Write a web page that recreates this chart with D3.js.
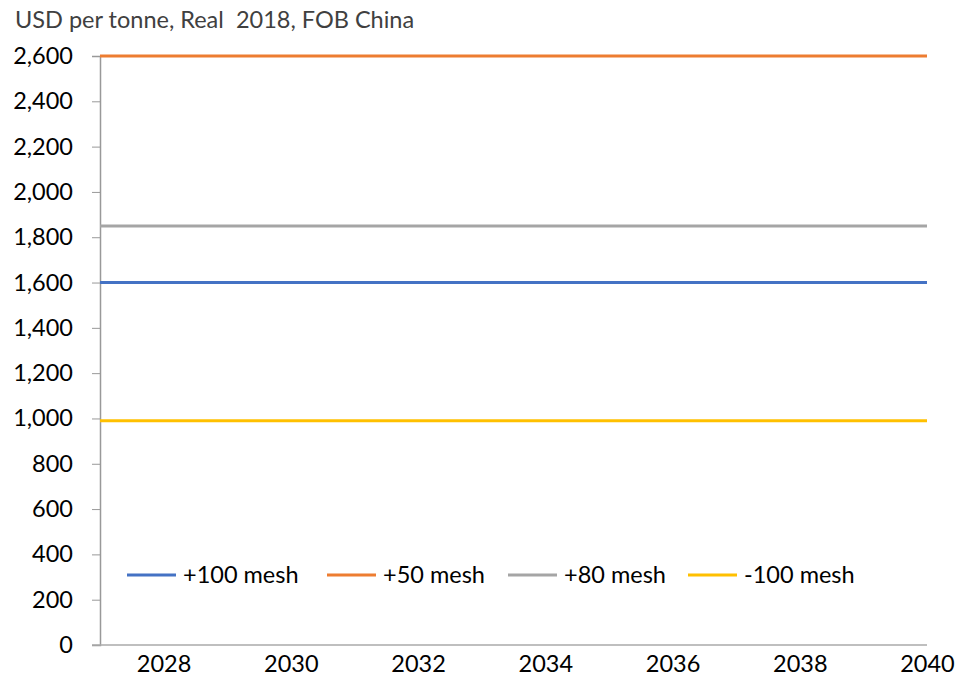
<!DOCTYPE html>
<html><head><meta charset="utf-8">
<script src="https://cdn.jsdelivr.net/npm/d3@7"></script>
<style>
body{margin:0;background:#fff;}
text{font-family:"Lato","Liberation Sans",sans-serif;}
</style></head>
<body><svg id="c" width="955" height="683"></svg>
<script>
const years = [2027, 2028, 2029, 2030, 2031, 2032, 2033, 2034, 2035, 2036, 2037, 2038, 2039, 2040];
const seriesNames = ["+100 mesh", "+50 mesh", "+80 mesh", "-100 mesh"];
const seriesColors = ["#4472c4", "#ed7d31", "#a5a5a5", "#ffc000"];
const mesh100 = [1600,1600,1600,1600,1600,1600,1600,1600,1600,1600,1600,1600,1600,1600];
const mesh50  = [2600,2600,2600,2600,2600,2600,2600,2600,2600,2600,2600,2600,2600,2600];
const mesh80  = [1850,1850,1850,1850,1850,1850,1850,1850,1850,1850,1850,1850,1850,1850];
const meshM100 = [990,990,990,990,990,990,990,990,990,990,990,990,990,990];
const xTicks = [2028, 2030, 2032, 2034, 2036, 2038, 2040];
const yTicks = [0,200,400,600,800,1000,1200,1400,1600,1800,2000,2200,2400,2600];
const titleText = "USD per tonne, Real  2018, FOB China";

const series = [mesh100, mesh50, mesh80, meshM100];
const svg = d3.select("#c");
const x = d3.scaleLinear().domain([2027, 2040]).range([100, 927]);
const y = d3.scaleLinear().domain([0, 2600]).range([645, 56]);
const FS = 23.5;

svg.append("text").attr("x", 15).attr("y", 28).attr("font-size", FS).attr("fill", "#404040")
  .attr("xml:space", "preserve").style("white-space", "pre").text(titleText);

// y axis
const ya = svg.append("g").attr("transform", "translate(100,0)")
  .call(d3.axisLeft(y).tickValues(yTicks).tickSize(8).tickPadding(19).tickFormat(d3.format(",")));
ya.select(".domain").attr("stroke", "#999").attr("stroke-width", 1.5);
ya.selectAll(".tick line").attr("stroke", "#999");
ya.selectAll("text").attr("font-size", FS).attr("fill", "#000").style("font-family", "Lato");

// x axis
const xa = svg.append("g").attr("transform", "translate(0,645)")
  .call(d3.axisBottom(x).tickValues(xTicks).tickSize(0).tickPadding(10).tickFormat(d3.format("d")));
xa.select(".domain").remove();
xa.append("line").attr("x1", 92).attr("x2", 927).attr("y1", 0).attr("y2", 0).attr("stroke", "#aaa").attr("stroke-width", 1.5);
xa.selectAll("text").attr("font-size", FS).attr("fill", "#000").style("font-family", "Lato");

const line = d3.line().x((d, i) => x(years[i])).y(d => y(d));
series.forEach((s, i) => {
  svg.append("path").datum(s).attr("d", line).attr("fill", "none")
    .attr("stroke", seriesColors[i]).attr("stroke-width", 3);
});

// legend
const legX = [127, 327, 508, 688];
seriesNames.forEach((n, i) => {
  const g = svg.append("g").attr("transform", `translate(${legX[i]},575)`);
  g.append("line").attr("x1", 0).attr("x2", 49).attr("y1", 0).attr("y2", 0)
    .attr("stroke", seriesColors[i]).attr("stroke-width", 3);
  g.append("text").attr("x", 56).attr("y", 8).attr("font-size", FS).attr("fill", "#000").text(n);
});
</script></body></html>
